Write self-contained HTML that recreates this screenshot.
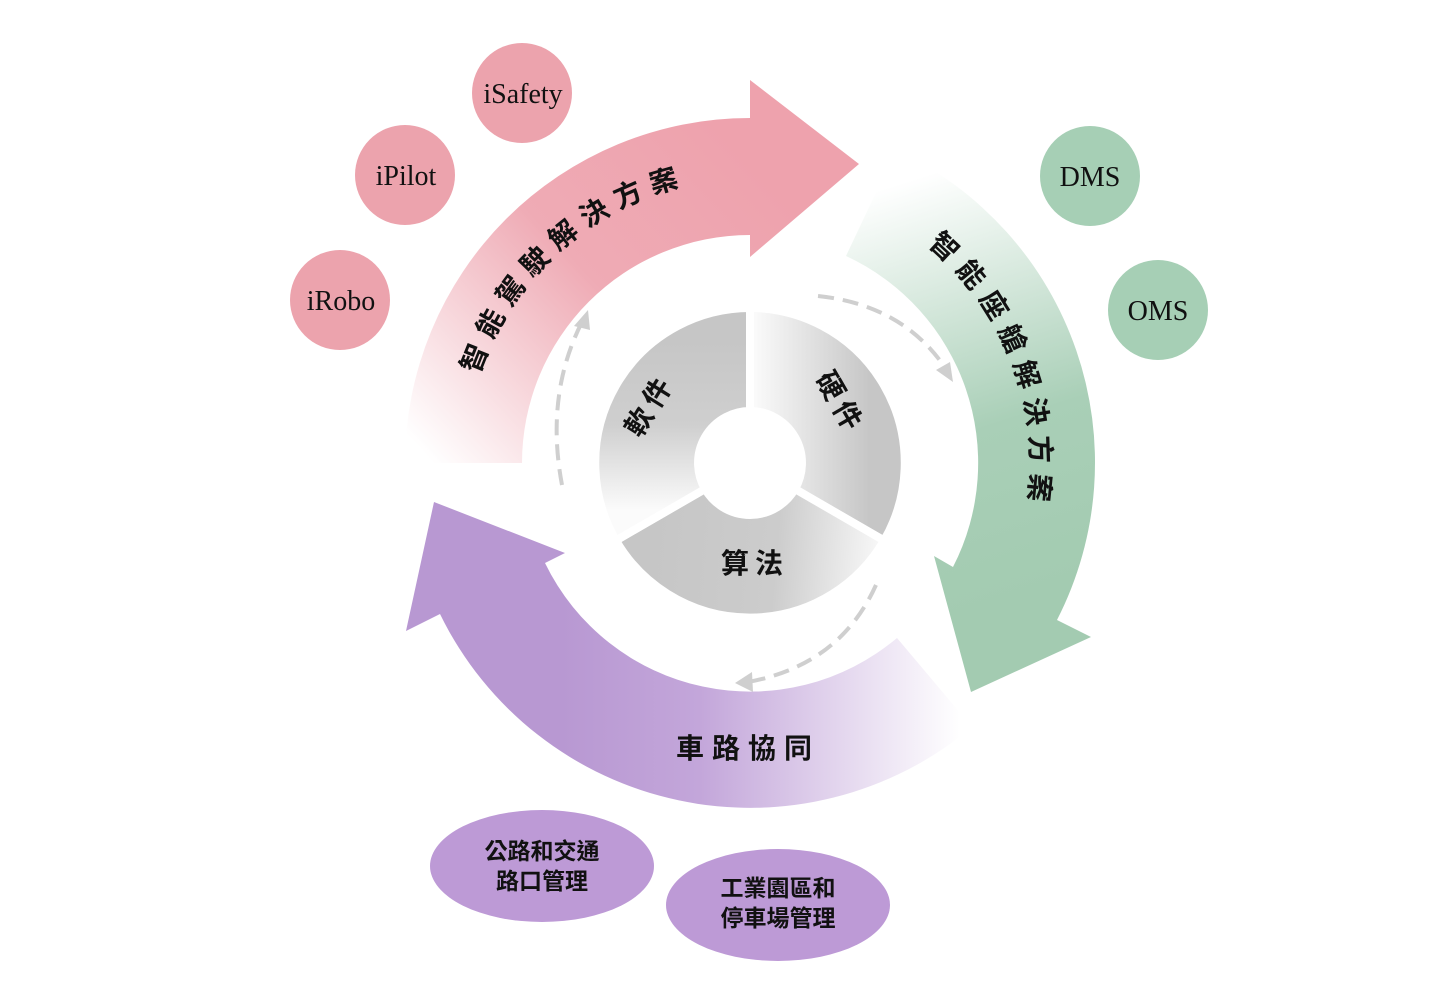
<!DOCTYPE html>
<html><head><meta charset="utf-8"><style>
html,body{margin:0;padding:0;background:#fff;}
svg{display:block;}
.cjk{font-family:"Liberation Sans","Noto Sans CJK TC",sans-serif;}
.ser{font-family:"Liberation Serif",serif;}
</style></head><body>
<svg width="1439" height="985" viewBox="0 0 1439 985" xmlns="http://www.w3.org/2000/svg">
<defs>
<linearGradient id="gp" gradientUnits="userSpaceOnUse" x1="760" y1="170" x2="440" y2="470">
<stop offset="0" stop-color="#eea2ad"/><stop offset="0.45" stop-color="#efabb5"/><stop offset="1" stop-color="#fff"/>
</linearGradient>
<linearGradient id="gg" gradientUnits="userSpaceOnUse" x1="1010" y1="600" x2="880" y2="190">
<stop offset="0" stop-color="#a3cbb1"/><stop offset="0.4" stop-color="#a9cfb7"/><stop offset="1" stop-color="#fff"/>
</linearGradient>
<linearGradient id="gu" gradientUnits="userSpaceOnUse" x1="560" y1="0" x2="960" y2="0">
<stop offset="0" stop-color="#b898d2"/><stop offset="0.35" stop-color="#c3a6da"/><stop offset="1" stop-color="#fff"/>
</linearGradient>
<linearGradient id="s1" gradientUnits="userSpaceOnUse" x1="755" y1="0" x2="870" y2="0">
<stop offset="0" stop-color="#fafafa"/><stop offset="1" stop-color="#c6c6c6"/>
</linearGradient>
<linearGradient id="s2" gradientUnits="userSpaceOnUse" x1="650" y1="540" x2="880" y2="560">
<stop offset="0" stop-color="#c6c6c6"/><stop offset="0.55" stop-color="#cccccc"/><stop offset="1" stop-color="#f8f8f8"/>
</linearGradient>
<linearGradient id="s3" gradientUnits="userSpaceOnUse" x1="0" y1="340" x2="0" y2="510">
<stop offset="0" stop-color="#c6c6c6"/><stop offset="0.5" stop-color="#cfcfcf"/><stop offset="1" stop-color="#fbfbfb"/>
</linearGradient>
<path id="tp1" d="M479,375 A285,285 0 0 1 775,179"/>
<path id="tp2" d="M927,245 A281,281 0 0 1 1021,536"/>
</defs>

<path d="M405,463 A345,345 0 0 1 750,118 L750,80 L859,164 L750,257 L750,235 A228,228 0 0 0 522,463 Z" fill="url(#gp)"/>
<path d="M896,150 A345,345 0 0 1 1057,620 L1091,637 L971,692 L934,556 L953,567 A228,228 0 0 0 846,256 Z" fill="url(#gg)"/>
<path d="M972,727 A345,345 0 0 1 440,614 L406,631 L434,502 L565,553 L545,563 A228,228 0 0 0 897,638 Z" fill="url(#gu)"/>

<text class="cjk" font-size="28" font-weight="bold" letter-spacing="9" fill="#111"><textPath href="#tp1">智能駕駛解決方案</textPath></text>
<text class="cjk" font-size="28" font-weight="bold" letter-spacing="9" fill="#111"><textPath href="#tp2">智能座艙解決方案</textPath></text>
<text class="cjk" x="748" y="758" font-size="28" font-weight="bold" letter-spacing="8" fill="#111" text-anchor="middle">車路協同</text>

<g fill="none" stroke="#cfcfcf" stroke-width="4" stroke-dasharray="16,9">
<path d="M562,485 Q545,395 582,322"/>
<path d="M818,296 Q905,305 948,372"/>
<path d="M876,585 Q840,665 748,682"/>
</g>
<g fill="#cfcfcf">
<polygon points="588,310 574,326 590,330"/>
<polygon points="953,382 936,370 950,362"/>
<polygon points="735,683 752,672 753,692"/>
</g>

<g stroke="#fff" stroke-width="8">
<path d="M750,308 A155,155 0 0 1 884,540.5 L795,489 A52,52 0 0 0 750,411 Z" fill="url(#s1)"/>
<path d="M884,540.5 A155,155 0 0 1 616,540.5 L705,489 A52,52 0 0 0 795,489 Z" fill="url(#s2)"/>
<path d="M616,540.5 A155,155 0 0 1 750,308 L750,411 A52,52 0 0 0 705,489 Z" fill="url(#s3)"/>
</g>
<text class="cjk" font-size="28" font-weight="bold" fill="#111" letter-spacing="6" text-anchor="middle" transform="translate(658,410) rotate(-58)">軟件</text>
<text class="cjk" font-size="28" font-weight="bold" fill="#111" letter-spacing="6" text-anchor="middle" transform="translate(832,408) rotate(60)">硬件</text>
<text class="cjk" x="755" y="573" font-size="28" font-weight="bold" fill="#111" letter-spacing="6" text-anchor="middle">算法</text>

<g fill="#eca3ad">
<circle cx="522" cy="93" r="50"/><circle cx="405" cy="175" r="50"/><circle cx="340" cy="300" r="50"/>
</g>
<g fill="#a6cfb5"><circle cx="1090" cy="176" r="50"/><circle cx="1158" cy="310" r="50"/></g>
<g class="ser" font-size="28" fill="#111" text-anchor="middle">
<text x="523" y="103">iSafety</text><text x="406" y="185">iPilot</text><text x="341" y="310">iRobo</text>
<text x="1090" y="186">DMS</text><text x="1158" y="320">OMS</text>
</g>

<g fill="#bd9ad6"><ellipse cx="542" cy="866" rx="112" ry="56"/><ellipse cx="778" cy="905" rx="112" ry="56"/></g>
<g class="cjk" font-size="23" font-weight="bold" fill="#111" text-anchor="middle">
<text x="542" y="859">公路和交通</text><text x="542" y="889">路口管理</text>
<text x="778" y="896">工業園區和</text><text x="778" y="926">停車場管理</text>
</g>
</svg>
</body></html>
